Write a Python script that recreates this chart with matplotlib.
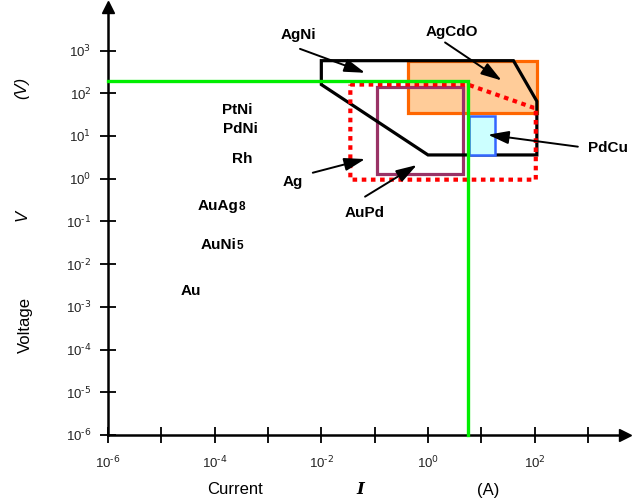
import numpy as np
import matplotlib
matplotlib.use("Agg")
import matplotlib.pyplot as plt
from matplotlib.patches import Polygon, Rectangle
from matplotlib.ticker import FixedLocator, FuncFormatter

plt.rcParams['font.family'] = ['Liberation Sans', 'DejaVu Sans']
plt.rcParams['mathtext.default'] = 'regular'

# contact material regions, current (A) and voltage (V)
agni_i = [1e-2, 40, 110, 110, 1.0, 1e-2]
agni_v = [580, 580, 65, 3.6, 3.6, 160]

agcdo_i = [0.43, 110]
agcdo_v = [34, 580]

ag_i = [0.035, 5.6, 95, 105, 105, 0.035]
ag_v = [160, 160, 46, 46, 0.95, 0.95]

aupd_i = [0.11, 4.6]
aupd_v = [1.3, 140]

pdcu_i = [5.9, 18]
pdcu_v = [3.5, 30]

# limit lines
limit_i = 5.6
limit_v = 195

# materials listed without a region (name, small suffix)
small_names = ["PtNi", "PdNi", "Rh", "AuAg", "AuNi", "Au"]
small_sub = ["", "", "", "8", "5", ""]
small_i = [10**-3.58, 10**-3.52, 10**-3.49, 10**-3.93, 10**-3.93, 10**-4.44]
small_v = [10**1.61, 10**1.17, 10**0.46, 10**-0.63, 10**-1.55, 10**-2.64]

decades = np.arange(-6, 4)

fig = plt.figure(figsize=(6.32, 4.99), dpi=100)
ax = fig.add_axes([108/632, 64/499, 517/632, 428/499])
ax.set_xscale('log')
ax.set_yscale('log')
ax.set_xlim(1e-6, 10**3.694)
ax.set_ylim(1e-6, 10**4.02)

# AgCdO (filled)
ax.add_patch(Rectangle((agcdo_i[0], agcdo_v[0]), agcdo_i[1] - agcdo_i[0], agcdo_v[1] - agcdo_v[0],
                       facecolor='#FFCC99', edgecolor='#FF6600', lw=2.3, zorder=2))
# AuPd
ax.add_patch(Rectangle((aupd_i[0], aupd_v[0]), aupd_i[1] - aupd_i[0], aupd_v[1] - aupd_v[0],
                       facecolor='none', edgecolor='#993366', lw=2.3, zorder=3))
# AgNi
ax.add_patch(Polygon(list(zip(agni_i, agni_v)), closed=True, facecolor='none',
                     edgecolor='black', lw=2.3, joinstyle='miter', zorder=4))
# Ag (dotted)
ax.add_patch(Polygon(list(zip(ag_i, ag_v)), closed=True, facecolor='none',
                     edgecolor='#FF0000', lw=3, linestyle=(0, (1.1, 1.1)), zorder=5))
# PdCu
ax.add_patch(Rectangle((pdcu_i[0], pdcu_v[0]), pdcu_i[1] - pdcu_i[0], pdcu_v[1] - pdcu_v[0],
                       facecolor='#CCFFFF', edgecolor='#3366FF', lw=1.8, zorder=6))
# limit
ax.plot([1e-6, limit_i, limit_i], [limit_v, limit_v, 1e-6], color='#00EE00', lw=2.4,
        zorder=7, clip_on=False, solid_joinstyle='miter')

for name, sub, xi, yv in zip(small_names, small_sub, small_i, small_v):
    t = ax.text(xi, yv, name, ha='center', va='center', fontsize=11, fontweight='bold')
    if sub:
        ax.annotate(sub, xy=(1, 0), xycoords=t, xytext=(0.2, 2.0), textcoords='offset points',
                    ha='left', va='baseline', fontsize=8.5, fontweight='bold')

arrows = [
    ("AgNi", (10**-2.42, 10**3.37), (10**-2.4, 10**3.04), (10**-1.18, 10**2.48)),
    ("AgCdO", (10**0.445, 10**3.445), (10**0.32, 10**3.19), (10**1.38, 10**2.30)),
    ("PdCu", (10**3.375, 10**0.72), (10**2.81, 10**0.75), (10**1.125, 10**1.03)),
    ("Ag", (10**-2.53, 10**-0.07), (10**-2.16, 10**0.14), (10**-1.18, 10**0.46)),
    ("AuPd", (10**-1.18, 10**-0.8), (10**-1.18, 10**-0.42), (10**-0.21, 10**0.32)),
]
for name, tpos, start, tip in arrows:
    ax.text(tpos[0], tpos[1], name, ha='center', va='center', fontsize=11, fontweight='bold')
    ax.annotate('', xy=tip, xytext=start,
                arrowprops=dict(arrowstyle='-|>,head_length=0.7,head_width=0.22', color='black',
                                lw=1.4, mutation_scale=18, shrinkA=0, shrinkB=0), zorder=8)

# axes with arrows
for s in ['top', 'right']:
    ax.spines[s].set_visible(False)
for s in ['left', 'bottom']:
    ax.spines[s].set_linewidth(1.8)
ax.plot(1, 0, '>', color='black', ms=9, transform=ax.transAxes, clip_on=False)
ax.plot(0, 1, '^', color='black', ms=9, transform=ax.transAxes, clip_on=False)


def pow_label(v):
    e = int(round(np.log10(v)))
    return r'$10^{\text{%d}}$' % e


ax.xaxis.set_major_locator(FixedLocator(10.0**decades))
ax.yaxis.set_major_locator(FixedLocator(10.0**decades))
ax.xaxis.set_minor_locator(FixedLocator([]))
ax.yaxis.set_minor_locator(FixedLocator([]))
ax.xaxis.set_major_formatter(FuncFormatter(
    lambda v, p: pow_label(v) if round(np.log10(v)) % 2 == 0 and v < 1e3 else ''))
ax.yaxis.set_major_formatter(FuncFormatter(lambda v, p: pow_label(v)))
ax.tick_params(direction='inout', length=12, width=1.3, labelsize=9.5, labelcolor='#222222')
ax.tick_params(axis='y', pad=6)
ax.tick_params(axis='x', pad=8)

fig.text(22/632, 1 - 88/499, '(V)', rotation=90, ha='center', va='center', fontsize=12, style='italic')
fig.text(22/632, 1 - 215/499, 'V', rotation=90, ha='center', va='center', fontsize=12, style='italic')
fig.text(25/632, 1 - 325/499, 'Voltage', rotation=90, ha='center', va='center', fontsize=12)
fig.text(235/632, 1 - 490/499, 'Current', ha='center', va='center', fontsize=12)
fig.text(360/632, 1 - 489/499, 'I', ha='center', va='center', fontsize=12,
         family='DejaVu Serif', style='italic', fontweight='bold')
fig.text(488/632, 1 - 490/499, '(A)', ha='center', va='center', fontsize=12)

fig.savefig("out.png", dpi=100)
